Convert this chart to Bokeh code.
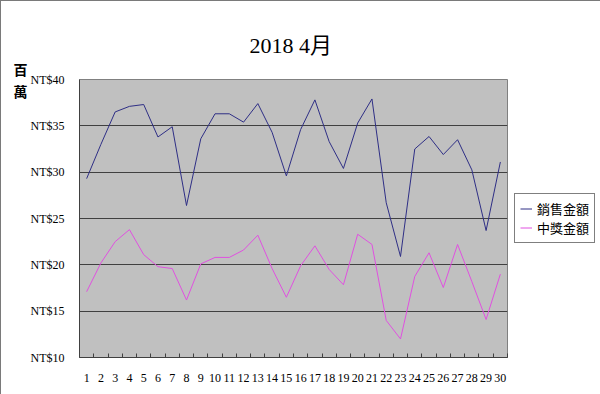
from bokeh.plotting import figure
from bokeh.models import FixedTicker, Legend, LegendItem, Range1d
from bokeh.embed import file_html
from bokeh.resources import INLINE

days = list(range(1, 31))
day_labels = [str(d) for d in days]
sales = [29.3, 33.0, 36.5, 37.1, 37.3, 33.8, 34.9, 26.4, 33.6, 36.3,
         36.3, 35.4, 37.4, 34.3, 29.6, 34.6, 37.8, 33.3, 30.4, 35.3,
         37.9, 26.7, 20.9, 32.5, 33.85, 31.9, 33.5, 30.25, 23.7, 31.1]
prize = [17.1, 20.2, 22.5, 23.8, 21.1, 19.8, 19.6, 16.2, 20.1, 20.8,
         20.8, 21.6, 23.2, 19.6, 16.5, 19.9, 22.05, 19.5, 17.85, 23.3,
         22.2, 14.0, 12.0, 18.75, 21.3, 17.55, 22.2, 18.2, 14.1, 19.0]
y_ticks = [10, 15, 20, 25, 30, 35, 40]
y_tick_labels = ["NT$10", "NT$15", "NT$20", "NT$25", "NT$30", "NT$35", "NT$40"]
series_names = ["銷售金額", "中獎金額"]
title_text = "2018  4月"
unit_label = "百\n萬"

SERIF = "Liberation Serif"
CJK = "Noto Sans CJK TC"

p = figure(width=600, height=394, frame_width=428, frame_height=278,
           output_backend="svg", toolbar_location=None,
           x_range=Range1d(0.5, 30.5), y_range=Range1d(10, 40),
           min_border_left=78, min_border_right=94, min_border_top=78,
           min_border_bottom=38)
p.styles = {"border": "1px solid #7a7a7a", "box-sizing": "border-box"}

p.title.text = title_text
p.title.align = "center"
p.title.offset = 6
p.title.vertical_align = "top"
p.title.text_font = SERIF + ", " + CJK
p.title.text_font_size = "22px"
p.title.text_font_style = "normal"
p.title.text_color = "black"
p.title.standoff = 40

p.background_fill_color = "#c0c0c0"
p.border_fill_color = "white"
p.outline_line_color = "#808080"
p.outline_line_width = 1

# grid
p.xgrid.visible = False
p.ygrid.ticker = FixedTicker(ticks=y_ticks)
p.ygrid.grid_line_color = "#404040"
p.ygrid.grid_line_width = 1

# y axis
p.yaxis.ticker = FixedTicker(ticks=y_ticks)
p.yaxis.major_label_overrides = {t: l for t, l in zip(y_ticks, y_tick_labels)}
p.yaxis.major_tick_line_color = None
p.yaxis.minor_tick_line_color = None
p.yaxis.axis_line_color = "#404040"
p.yaxis.major_label_text_font = SERIF
p.yaxis.major_label_text_font_size = "12px"
p.yaxis.major_label_text_color = "black"
p.yaxis.major_label_standoff = 9
p.yaxis.axis_label = unit_label
p.yaxis.axis_label_orientation = "horizontal"
p.yaxis.axis_label_align = "end"
p.yaxis.axis_label_text_baseline = "top"
p.yaxis.axis_label_text_line_height = 1.1
p.yaxis.axis_label_text_font = CJK
p.yaxis.axis_label_text_font_size = "14px"
p.yaxis.axis_label_text_font_style = "bold"
p.yaxis.axis_label_text_color = "black"
p.yaxis.axis_label_standoff = 0

# x axis
p.xaxis.ticker = FixedTicker(ticks=days, minor_ticks=[d - 0.5 for d in days] + [30.5])
p.xaxis.major_label_overrides = {d: l for d, l in zip(days, day_labels)}
p.xaxis.major_tick_line_color = None
p.xaxis.minor_tick_line_color = "#404040"
p.xaxis.minor_tick_in = 4
p.xaxis.minor_tick_out = 0
p.xaxis.axis_line_color = "#404040"
p.xaxis.major_label_text_font = SERIF
p.xaxis.major_label_text_font_size = "12px"
p.xaxis.major_label_text_color = "black"
p.xaxis.major_label_standoff = 10

r1 = p.line(days, sales, line_color="#2e2e85", line_width=1)
r2 = p.line(days, prize, line_color="#e050e0", line_width=1)

legend = Legend(items=[LegendItem(label=series_names[0], renderers=[r1]),
                       LegendItem(label=series_names[1], renderers=[r2])],
                location="center_left", orientation="vertical")
legend.border_line_color = "black"
legend.border_line_width = 1
legend.background_fill_color = "white"
legend.background_fill_alpha = 1
legend.label_text_font = CJK
legend.label_text_font_size = "13px"
legend.label_text_color = "black"
legend.glyph_width = 12
legend.glyph_height = 15
legend.label_height = 15
legend.label_standoff = 5
legend.spacing = 0
legend.padding = 5
legend.margin = 7
p.add_layout(legend, "right")

open("out.html", "w").write(file_html(p, INLINE))
